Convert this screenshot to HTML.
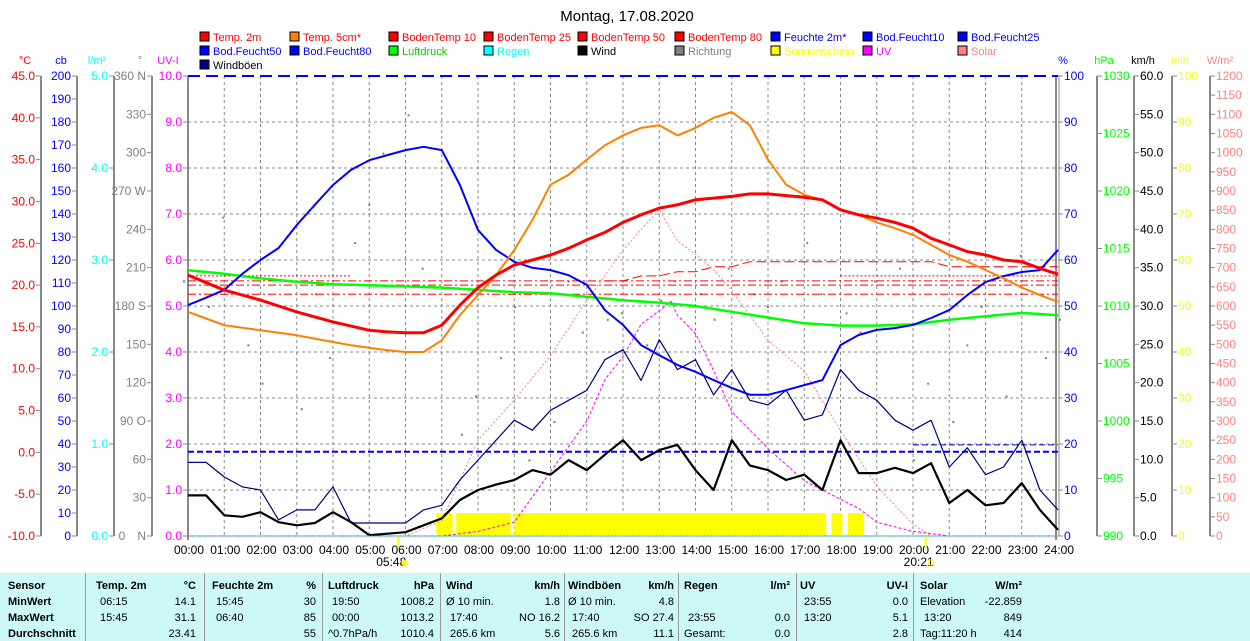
<!DOCTYPE html>
<html><head><meta charset="utf-8"><style>
body{margin:0;width:1250px;height:641px;overflow:hidden;background:#fff;font-family:"Liberation Sans",sans-serif}
#chart{position:absolute;left:0;top:0}
#tbl{position:absolute;left:0;top:573px;width:1250px;height:68px;background:#ccf8f8;font-size:11px;color:#000}
#tbl div{position:absolute;white-space:nowrap}
.b{font-weight:bold}
.sep{width:1px;background:#999;top:0;height:68px}
</style></head><body>
<svg id="chart" width="1250" height="573" xmlns="http://www.w3.org/2000/svg" font-family="Liberation Sans, sans-serif" font-size="11"></svg>
<div id="tbl"></div>
<script>
const hours=[0,0.5,1,1.5,2,2.5,3,3.5,4,4.5,5,5.5,6,6.5,7,7.5,8,8.5,9,9.5,10,10.5,11,11.5,12,12.5,13,13.5,14,14.5,15,15.5,16,16.5,17,17.5,18,18.5,19,19.5,20,20.5,21,21.5,22,22.5,23,23.5,24];
const temp2m=[21.2,20.3,19.4,18.8,18.2,17.5,16.8,16.2,15.6,15.1,14.6,14.4,14.3,14.3,15.2,17.6,19.7,21.2,22.4,23.0,23.6,24.4,25.4,26.3,27.5,28.4,29.2,29.6,30.2,30.4,30.6,30.9,30.9,30.7,30.5,30.2,29.0,28.4,28.0,27.5,26.8,25.6,24.8,24.0,23.6,23.0,22.8,22.0,21.3];
const temp5cm=[16.8,16.0,15.2,14.9,14.6,14.3,14.0,13.6,13.2,12.8,12.5,12.2,12.0,12.0,13.4,16.4,18.8,21.2,24.2,27.8,32.0,33.2,35.0,36.7,37.9,38.8,39.1,37.9,38.8,40.0,40.7,39.1,35.0,32.0,30.8,30.2,29.0,28.4,27.5,26.8,26.0,24.8,23.6,22.8,21.8,20.8,19.7,18.8,18.0];
const humidity=[50.2,51.8,53.5,57,60,62.6,67.6,72,76.3,79.6,81.7,82.8,83.9,84.6,83.9,76.3,66.5,62.2,59.6,58.3,57.8,56.7,54.6,49.1,45.9,41.5,39.3,37.2,35.7,33.9,32.2,30.7,30.7,31.7,32.8,33.9,41.5,43.7,44.8,45.2,45.9,47.4,49.1,52.4,55.2,56.5,57.4,57.8,62.2];
const pressHours=[0,1,2,3,4,5,6,7,8,9,10,11,12,13,14,15,16,17,18,19,20,21,22,23,24];
const pressure=[1013.1,1012.8,1012.4,1012.1,1011.9,1011.8,1011.7,1011.6,1011.4,1011.2,1011.1,1010.8,1010.5,1010.3,1010.0,1009.5,1009.0,1008.5,1008.3,1008.3,1008.4,1008.8,1009.1,1009.4,1009.2];
const uvHours=[0,7,8,9,10,11,11.5,12,12.5,13,13.33,13.5,14,14.5,15,16,17,18,18.5,19,20,21,24];
const uvIndex=[0,0,0.1,0.3,1.4,2.5,3.4,3.9,4.6,4.9,5.1,4.8,4.4,3.6,2.7,1.9,1.2,0.8,0.6,0.3,0.1,0,0];
const solarHours=[0,6,7,8,9,10,11,12,12.5,13,13.5,14,14.5,15,16,17,18,19,20,20.5,24];
const solar=[0,0,40,250,355,470,615,745,800,850,770,735,695,640,510,430,275,130,30,0,0];
const wind=[5.3,5.3,2.7,2.5,3.1,1.8,1.4,1.7,3.1,1.8,0.1,0.3,0.5,1.4,2.3,4.7,6.0,6.7,7.3,8.6,8.0,9.9,8.6,10.6,12.5,9.9,11.2,11.9,8.6,6.0,12.5,9.2,8.6,7.3,8.0,6.0,12.5,8.2,8.2,8.9,8.2,9.5,4.3,6.0,4.0,4.3,6.9,3.4,0.8];
const gust=[9.6,9.6,7.7,6.4,6.0,2.1,3.4,3.4,6.4,1.7,1.7,1.7,1.7,3.4,4.0,7.3,9.9,12.5,15.1,13.8,16.4,17.7,19.0,23.0,24.3,20.3,25.6,21.7,23.0,18.4,21.7,17.7,17.1,19.0,15.1,15.8,21.7,19.0,17.7,15.1,13.8,15.1,9.0,11.5,8.0,9.0,12.5,6.0,3.4];
const direction=[200,180,250,150,120,160,100,190,140,230,260,300,330,210,170,80,110,140,180,60,90,200,160,170,175,150,185,200,190,170,210,190,180,200,230,190,175,160,200,210,60,120,90,150,180,110,220,140,170];
const bt10=[21.1,21.1,21.1,21.1,21.1,21.1,21.1,21.1,21.1,21.1,null,null,null,null,null,null,null,null,null,null,null,null,null,null,null,null,null,null,null,null,null,null,null,null,null,null,21.1,21.1,21.1,21.1,21.1,21.1,21.1,21.1,21.1,21.1,21.1,21.1,21.1];
const bt25=[null,null,null,null,null,null,null,null,null,null,null,null,null,null,null,null,null,null,null,null,null,null,null,20.5,20.5,21.1,21.1,21.6,21.6,22.2,22.2,22.8,22.8,22.8,22.8,22.8,22.8,22.8,22.8,22.8,22.8,22.8,22.2,22.2,22.2,22.2,22.2,22.2,22.2];
const bt50=[20.5,20.5];const bt80=[20.0,20.0];const bt100=[18.9,18.9];
const soilMoist=[18.3,18.3];const soilMoist2=[19.8,19.8];const soilMoistTop=[100,100];
const sunStart=[6.85,7.4,9.0,17.75,18.2];
const sunEnd=[7.3,8.9,17.6,18.05,18.65];
const sunMin=[5,5,5,5,5];
const hourTicks=["00:00","01:00","02:00","03:00","04:00","05:00","06:00","07:00","08:00","09:00","10:00","11:00","12:00","13:00","14:00","15:00","16:00","17:00","18:00","19:00","20:00","21:00","22:00","23:00","24:00"];
const degLabels=["N","30","60","90  O","120","150","180 S","210","240","270 W","300","330","360 N"];

const svg=document.getElementById('chart');const NS="http://www.w3.org/2000/svg";
const L=188,R=1058,T=76,B=536;
const xs=h=>L+h*(R-L)/24;
const yT=t=>B-(t+10)*460/55, yP=p=>B-p*4.6, yH=p=>B-(p-990)*11.5, yW=w=>B-w*460/60,
yU=u=>B-u*46, yS=s=>B-s*460/1200, yD=d=>B-d*460/360, yM=m=>B-m*4.6;
function mk(tag,attrs,parent){const e=document.createElementNS(NS,tag);for(const k in attrs)e.setAttribute(k,attrs[k]);(parent||svg).appendChild(e);return e;}
function txt(x,y,s,fill,anchor,size){const e=mk('text',{x:x,y:y,fill:fill,'text-anchor':anchor||'start','font-size':size||11});e.textContent=s;return e;}
function path(xv,yv,yf,stroke,w,dash,name){let d='',pen=false;for(let i=0;i<xv.length;i++){if(yv[i]==null){pen=false;continue;}d+=(pen?'L':'M')+xs(xv[i]).toFixed(1)+','+yf(yv[i]).toFixed(1);pen=true;}
const p=mk('path',{d:d,fill:'none',stroke:stroke,'stroke-width':w,'stroke-linejoin':'round'});if(dash)p.setAttribute('stroke-dasharray',dash);

return p;}

let t0=txt(627,21,'Montag, 17.08.2020','#000','middle',15);


const legNames=['Temp. 2m','Temp. 5cm*','BodenTemp 10','BodenTemp 25','BodenTemp 50','BodenTemp 80','Feuchte 2m*','Bod.Feucht10','Bod.Feucht25','Bod.Feucht50','Bod.Feucht80','Luftdruck','Regen','Wind','Richtung','Sonnenschein','UV','Solar','Windböen'];
const legCols=['#f00','#ff8000','#f00','#f00','#f00','#f00','#00f','#00f','#00f','#00f','#00f','#0f0','#0ff','#000','#808080','#ff0','#f0f','#ff8080','#000080'];
const legText=['#f00','#f00','#f00','#f00','#f00','#f00','#00f','#00f','#00f','#00f','#00f','#0c0','#0ff','#000','#808080','#ff0','#f0f','#ff8080','#000'];
const legX=[200,290,389,484,578,675,771,863,958];
legNames.forEach((n,i)=>{const r=Math.floor(i/9),c=i%9;const g=mk('g',{});


mk('rect',{x:legX[c],y:32+r*14,width:9,height:9,fill:legCols[i],stroke:'#000','stroke-width':1},g);
const tt=txt(legX[c]+13,41+r*14,n,legText[i]);g.appendChild(tt);});

for(let h=1;h<24;h++)mk('line',{x1:xs(h),x2:xs(h),y1:T,y2:B,stroke:'#888','stroke-dasharray':'3,3','stroke-width':1});
for(let k=1;k<10;k++)mk('line',{x1:L,x2:R,y1:yU(k),y2:yU(k),stroke:'#888','stroke-dasharray':'3,3','stroke-width':1});
mk('line',{x1:L,x2:L,y1:T,y2:B+4,stroke:'#888','stroke-width':2});
mk('line',{x1:R-2,x2:R-2,y1:T,y2:B+4,stroke:'#888','stroke-width':2});
mk('line',{x1:R+1,x2:R+1,y1:T,y2:B,stroke:'#888','stroke-width':1});
mk('line',{x1:L,x2:R,y1:B,y2:B,stroke:'#888','stroke-width':1});

function axis(lineX,vals,yf,labels,color,side,name,title,titleX){const g=mk('g',{});


if(lineX!==L&&lineX!==R)mk('line',{x1:lineX,x2:lineX,y1:T,y2:B,stroke:'#888','stroke-width':2},g);
vals.forEach((v,i)=>{const y=yf(v);mk('line',{x1:lineX,x2:lineX+(side==='l'?-5:5),y1:y,y2:y,stroke:'#888'},g);
const e=txt(side==='l'?lineX-6:lineX+6,y+4,labels[i],color,side==='l'?'end':'start',12);g.appendChild(e);});
const tt=txt(titleX,64,title,color,'middle',11);g.appendChild(tt);}
const range=(a,b,s)=>{const r=[];for(let v=a;v<=b+1e-9;v+=s)r.push(+v.toFixed(2));return r;};
let v;
v=range(-10,45,5);axis(41,v,yT,v.map(x=>x.toFixed(1)),'#f00','l','celsius-axis','°C',25);
v=range(0,200,10);axis(77,v,p=>B-p*2.3,v.map(String),'#00f','l','cb-axis','cb',61);
v=range(0,5,1);axis(114,v,p=>B-p*92,v.map(x=>x.toFixed(1)),'#0ff','l','rain-axis','l/m²',97);
v=range(0,360,30);axis(152,v,yD,degLabels.map(s=>s),'#808080','l','direction-axis','°',140);
txt(122,540,'0','#808080','middle',12);
v=range(0,10,1);axis(L,v,yU,v.map(x=>x.toFixed(1)),'#f0f','l','uv-axis','UV-I',168);
v=range(0,100,10);axis(R,v,yP,v.map(String),'#00f','r','humidity-axis','%',1063);
v=range(990,1030,5);axis(1097,v,yH,v.map(String),'#0f0','r','pressure-axis','hPa',1104);
v=range(0,60,5);axis(1134,v,yW,v.map(x=>x.toFixed(1)),'#000','r','wind-axis','km/h',1143);
v=range(0,100,10);axis(1172,v,yM,v.map(String),'#ff0','r','sunshine-axis','min',1180);
v=range(0,1200,50);axis(1210,v,yS,v.map(String),'#ff8080','r','solar-axis','W/m²',1220);

hourTicks.forEach((s,i)=>{const e=txt(xs(i)+1,554,s,'#000','middle',12);

});
mk('line',{x1:xs(5.8),x2:xs(5.8),y1:B,y2:B+12,stroke:'#ff0','stroke-width':2});
txt(xs(5.8)-7,566,'05:48','#000','middle',12);
mk('circle',{cx:xs(5.8)+6,cy:563,r:3,fill:'#ff0'});
mk('line',{x1:xs(20.35),x2:xs(20.35),y1:B,y2:B+12,stroke:'#ff0','stroke-width':2});
txt(xs(20.35)-7,566,'20:21','#000','middle',12);
mk('rect',{x:xs(20.35)+3,y:560,width:5,height:5,fill:'none',stroke:'#ff0'});

sunStart.forEach((s,i)=>{const r=mk('rect',{x:xs(s),y:yM(sunMin[i]),width:xs(sunEnd[i])-xs(s),height:B-yM(sunMin[i]),fill:'#ff0'});

});
direction.forEach((d,i)=>{const c=mk('rect',{x:xs(hours[i])+((i*7)%11)-5,y:yD(d),width:2,height:2,fill:'#808080'});

});
path([0,24],soilMoistTop,yP,'#00f',2,'12,6','soil-moisture-80-line');
path([0,24],soilMoist,yP,'#00f',2,'6,3','soil-moisture-50-line');
path([20,24],soilMoist2,yP,'#00f',1,'6,3','soil-moisture-25-line');
path(hours,bt10,yT,'#f00',1,'2,2','soil-temp-10-line');
path(hours,bt25,yT,'#f00',1,'10,4','soil-temp-25-line');
path([0,24],bt50,yT,'#f00',1,'8,3,2,3','soil-temp-50-line');
path([0,24],bt80,yT,'#f00',1,'8,3,2,3','soil-temp-80-line');
path([0,24],bt100,yT,'#f00',1,'8,3,2,3','soil-temp-deep-line');
path(solarHours,solar,yS,'#ff8080',1,'2,2','solar-line');
path(uvHours,uvIndex,yU,'#f0f',1,'3,2','uv-line');
path(pressHours,pressure,yH,'#0f0',2.5,null,'pressure-line');
path(hours,gust,yW,'#000080',1.2,null,'gust-line');
path(hours,wind,yW,'#000',2.2,null,'wind-line');
path(hours,humidity,yP,'#00f',2,null,'humidity-line');
path(hours,temp5cm,yT,'#ff8000',2,null,'temp-5cm-line');
path(hours,temp2m,yT,'#f00',3,null,'temp-2m-line');
mk('line',{x1:L,x2:R,y1:B,y2:B,stroke:'#0cc','stroke-width':1,'stroke-dasharray':'2,1'});

const tbl=document.getElementById('tbl');
function cell(x,y,s,cls,right){const d=document.createElement('div');d.textContent=s;d.className=cls||'';
d.style.top=(y-7)+'px';if(right){d.style.right=(1250-x)+'px';}else d.style.left=x+'px';

tbl.appendChild(d);}
[85,204,322,440,564,678,796,913].forEach(x=>{const s=document.createElement('div');s.className='sep';s.style.left=x+'px';

tbl.appendChild(s);});
const rowsY=[14,30,46,62];
['Sensor','MinWert','MaxWert','Durchschnitt'].forEach((s,i)=>cell(8,rowsY[i],s,'b'));
const cols=[
 [96,196,'Temp. 2m','°C',[[' 06:15','14.1'],[' 15:45','31.1'],['','23.41']]],
 [212,316,'Feuchte 2m','%',[[' 15:45','30'],[' 06:40','85'],['','55']]],
 [328,434,'Luftdruck','hPa',[[' 19:50','1008.2'],[' 00:00','1013.2'],['^0.7hPa/h','1010.4']]],
 [446,560,'Wind','km/h',[['Ø 10 min.','1.8'],[' 17:40','NO 16.2'],[' 265.6 km','5.6']]],
 [568,674,'Windböen','km/h',[['Ø 10 min.','4.8'],[' 17:40','SO 27.4'],[' 265.6 km','11.1']]],
 [684,790,'Regen','l/m²',[['',''],[' 23:55','0.0'],['Gesamt:','0.0']]],
 [800,908,'UV','UV-I',[[' 23:55','0.0'],[' 13:20','5.1'],['','2.8']]],
 [920,1022,'Solar','W/m²',[['Elevation','-22.859'],[' 13:20','849'],['Tag:11:20 h','414']]]];
cols.forEach(c=>{cell(c[0],rowsY[0],c[2],'b');cell(c[1],rowsY[0],c[3],'b',true);
c[4].forEach((r,i)=>{cell(c[0]+(r[0].startsWith(' ')?4:0),rowsY[i+1],r[0].trim());cell(c[1]-(r[0]===''&&i===2?0:0),rowsY[i+1],r[1],'',true);});});
</script>
</body></html>
